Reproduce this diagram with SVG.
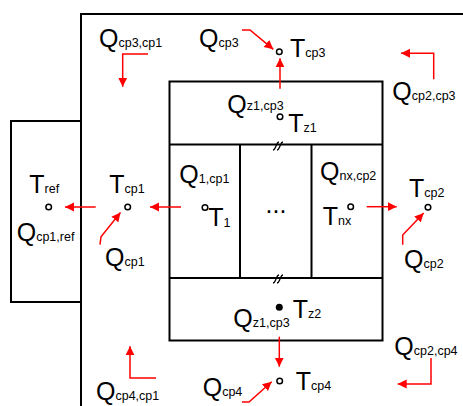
<svg xmlns="http://www.w3.org/2000/svg" width="463" height="406" viewBox="0 0 463 406">
<defs>
<style>
.ln{fill:none;stroke:#000;stroke-width:2}
.ar{fill:none;stroke:#ff0000;stroke-width:1.5;marker-end:url(#ah)}
.pt{fill:#fff;stroke:#000;stroke-width:1.5}
text{font-family:"Liberation Sans",Arial,sans-serif;font-size:25px;fill:#000}
.s{font-size:12.5px}
</style>
<marker id="ah" viewBox="0 0 10 10" refX="10" refY="5" markerUnits="userSpaceOnUse" markerWidth="9" markerHeight="12" orient="auto">
<path d="M0,0 L10,5 L0,10 z" fill="#ff0000"/>
</marker>
</defs>
<rect width="463" height="406" fill="#fff"/>
<g id="frame">
<path class="ln" d="M81,406 V14 H464"/>
</g>
<g id="ref-box">
<path class="ln" d="M81,121 H11 V302 H81"/>
</g>
<g id="zone-box">
<rect class="ln" x="169.5" y="81.5" width="213" height="259"/>
<path class="ln" d="M169.5,144.5 H382.5 M169.5,278 H382.5 M240,144.5 V278 M311.5,144.5 V278"/>
<path fill="none" stroke="#000" stroke-width="1.3" d="M273,150 c2,0 2,-2 3,-4 s1,-4 3,-4 M277,150 c2,0 2,-2 3,-4 s1,-4 3,-4"/>
<path fill="none" stroke="#000" stroke-width="1.3" d="M273,283 c2,0 2,-2 3,-4 s1,-4 3,-4 M277,283 c2,0 2,-2 3,-4 s1,-4 3,-4"/>
</g>
<g id="connectors">
<path class="ar" d="M148,54 H122.7 V86.7"/>
<path class="ar" d="M242,30 H250 L273.3,49.3"/>
<path class="ar" d="M280,88.7 V58.3"/>
<path class="ar" d="M433.7,79.3 V53.3 H401"/>
<path class="ar" d="M95.7,207 H65"/>
<path class="ar" d="M181,207 H150"/>
<path class="ar" d="M100,244.7 L101,236.7 L120.5,212.5"/>
<path class="ar" d="M366.7,206.7 H396.7"/>
<path class="ar" d="M402.7,244.7 V235 L423.7,213"/>
<path class="ar" d="M279.3,336.7 V366.7"/>
<path class="ar" d="M431,358 V384 H397.7"/>
<path class="ar" d="M156,378 H130 V346.3"/>
<path class="ar" d="M242,402 H249 L271.7,381.7"/>
</g>
<g id="T_ref"><circle class="pt" cx="48.7" cy="207" r="2.8"/><text x="29.3" y="193.3">T<tspan class="s">ref</tspan></text></g>
<g id="T_cp1"><circle class="pt" cx="127.7" cy="207" r="2.8"/><text x="109.3" y="193.3">T<tspan class="s">cp1</tspan></text></g>
<g id="T_1"><circle class="pt" cx="205" cy="207.5" r="2.8"/><text x="208.3" y="226">T<tspan class="s" dy="1">1</tspan></text></g>
<g id="T_nx"><circle class="pt" cx="350.7" cy="206.7" r="2.8"/><text x="322.7" y="225">T<tspan class="s">nx</tspan></text></g>
<g id="T_cp2"><circle class="pt" cx="428" cy="207.3" r="2.8"/><text x="409" y="197.3">T<tspan class="s">cp2</tspan></text></g>
<g id="T_cp3"><circle class="pt" cx="279.3" cy="51.7" r="2.8"/><text x="290" y="56.7">T<tspan class="s">cp3</tspan></text></g>
<g id="T_z1"><circle class="pt" cx="280" cy="116.7" r="2.8"/><text x="288.3" y="131.7">T<tspan class="s">z1</tspan></text></g>
<g id="T_z2"><circle cx="279.3" cy="307.3" r="3.5" fill="#000"/><text x="292.7" y="318.3">T<tspan class="s">z2</tspan></text></g>
<g id="T_cp4"><circle class="pt" cx="279.7" cy="381" r="2.8"/><text x="295.7" y="390">T<tspan class="s">cp4</tspan></text></g>
<g id="ellipsis"><text x="276" y="213" text-anchor="middle">...</text></g>
<g id="labels">
<text x="99" y="46.7">Q<tspan class="s">cp3,cp1</tspan></text>
<text x="199" y="46.7">Q<tspan class="s">cp3</tspan></text>
<text x="392.3" y="100">Q<tspan class="s">cp2,cp3</tspan></text>
<text x="227.3" y="113.3">Q<tspan class="s" dy="-3">z1,cp3</tspan></text>
<text x="179.3" y="183.3">Q<tspan class="s">1,cp1</tspan></text>
<text x="320" y="180">Q<tspan class="s">nx,cp2</tspan></text>
<text x="16.7" y="240.7">Q<tspan class="s">cp1,ref</tspan></text>
<text x="105" y="265.7">Q<tspan class="s">cp1</tspan></text>
<text x="404" y="268">Q<tspan class="s">cp2</tspan></text>
<text x="233.3" y="326.7">Q<tspan class="s">z1,cp3</tspan></text>
<text x="394.3" y="354.7">Q<tspan class="s">cp2,cp4</tspan></text>
<text x="96" y="399.7">Q<tspan class="s">cp4,cp1</tspan></text>
<text x="202.7" y="395.7">Q<tspan class="s">cp4</tspan></text>
</g>
</svg>
